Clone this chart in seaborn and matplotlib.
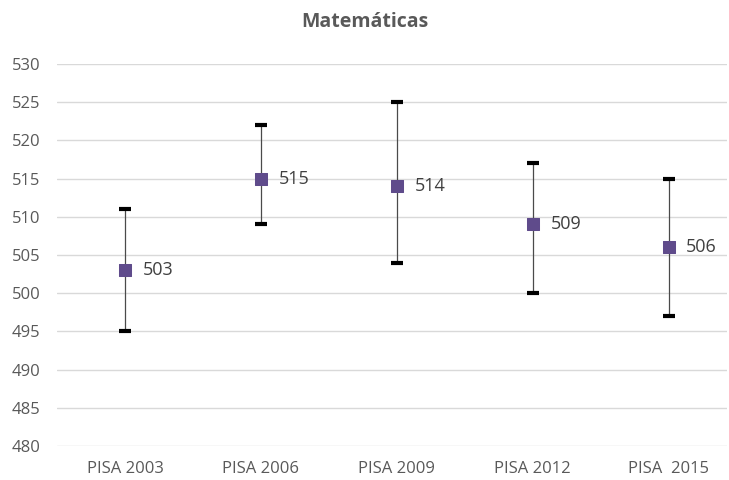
import matplotlib
matplotlib.use("Agg")
import matplotlib.pyplot as plt
import seaborn as sns
import pandas as pd

# data
years = ["PISA 2003", "PISA 2006", "PISA 2009", "PISA 2012", "PISA  2015"]
scores = [503, 515, 514, 509, 506]
lower = [495, 509, 504, 500, 497]
upper = [511, 522, 525, 517, 515]

df = pd.DataFrame({"year": years, "score": scores, "low": lower, "high": upper})
df["x"] = range(len(df))

sns.set_style("white")
plt.rcParams["font.family"] = ["Open Sans", "DejaVu Sans"]

fig = plt.figure(figsize=(7.29, 4.8), dpi=100)
ax = fig.add_axes([57 / 729, 34 / 480, 670 / 729, 382 / 480])

# whiskers (thin grey) and caps (thick black)
ax.vlines(df["x"], df["low"], df["high"], color="#4a4a4a", lw=0.9, zorder=2)
ax.errorbar(df["x"], df["score"],
            yerr=[df["score"] - df["low"], df["high"] - df["score"]],
            fmt="none", ecolor="black", elinewidth=0,
            capsize=4.5, capthick=3, zorder=3)

sns.scatterplot(data=df, x="x", y="score", marker="s", s=85,
                color="#5f4b8b", edgecolor="#5f4b8b", ax=ax, zorder=4, legend=False)

for xi, yi in zip(df["x"], df["score"]):
    ax.text(xi + 0.13, yi, str(yi), va="center", ha="left",
            fontsize=13, color="#404040")

ax.set_xlim(-0.5, 4.43)
ax.set_ylim(480, 530)
ax.set_yticks(range(480, 531, 5))
ax.set_xticks(df["x"])
ax.set_xticklabels(years)
ax.set_xlabel("")
ax.set_ylabel("")
ax.yaxis.grid(True, color="#d9d9d9", lw=1)
ax.set_axisbelow(True)
for s in ax.spines.values():
    s.set_visible(False)
ax.tick_params(axis="both", length=0, labelsize=12, colors="#595959")
ax.tick_params(axis="x", pad=11)
ax.tick_params(axis="y", pad=12)

fig.text(0.5, 1 - 22 / 480, "Matemáticas", ha="center", va="center",
         fontsize=14, fontweight="bold", color="#595959")

fig.savefig("out.png", dpi=100)
